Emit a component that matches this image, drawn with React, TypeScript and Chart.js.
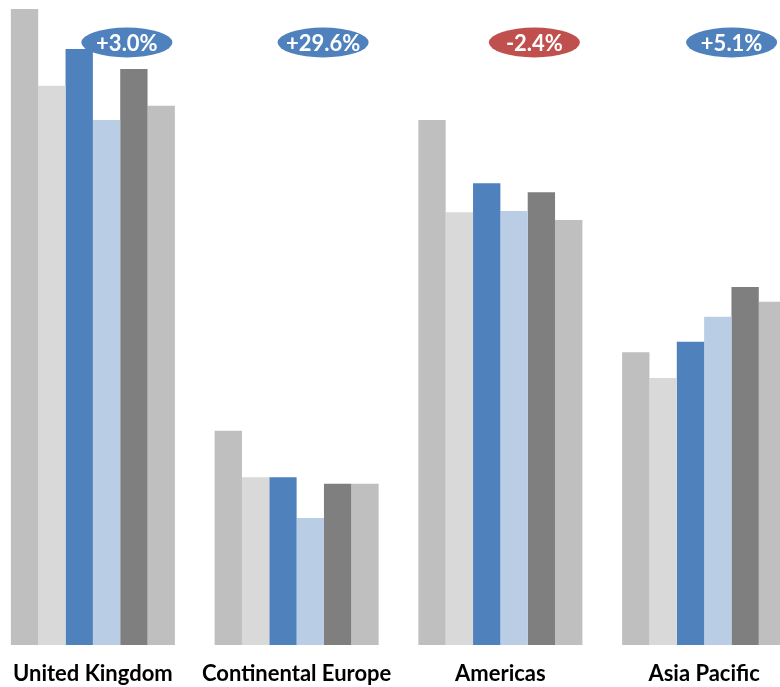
import React, { useEffect, useRef } from "react";
import { Chart, registerables } from "chart.js";

Chart.register(...registerables);

// Regions along the category axis
const regions = ["United Kingdom", "Continental Europe", "Americas", "Asia Pacific"];

// Six periods per region (index, 100 = axis maximum)
const period1 = [98.6, 33.2, 81.4, 45.4];
const period2 = [86.7, 26.0, 67.1, 41.4];
const period3 = [92.4, 26.0, 71.6, 47.0];
const period4 = [81.4, 19.7, 67.3, 50.9];
const period5 = [89.3, 25.0, 70.2, 55.5];
const period6 = [83.6, 25.0, 65.9, 53.2];

// Year-on-year change shown in the badge above each region
const changeLabels = ["+3.0%", "+29.6%", "-2.4%", "+5.1%"];
const changeValues = [3.0, 29.6, -2.4, 5.1];

const seriesColors = ["#BFBFBF", "#D9D9D9", "#4F81BD", "#B9CDE5", "#7F7F7F", "#BFBFBF"];

const badgePlugin = {
  id: "changeBadges",
  afterDatasetsDraw(chart: any) {
    const { ctx, chartArea } = chart;
    const xScale = chart.scales.x;
    const shifts = [34, 26.5, 34, 27.5];
    ctx.save();
    changeLabels.forEach((text, i) => {
      const cx = xScale.getPixelForValue(i) + shifts[i];
      const cy = chartArea.top + 42.5;
      ctx.beginPath();
      ctx.ellipse(cx, cy, 45.5, 15, 0, 0, Math.PI * 2);
      ctx.fillStyle = changeValues[i] < 0 ? "#C0504D" : "#4F81BD";
      ctx.fill();
      ctx.fillStyle = "#FFFFFF";
      ctx.font = "bold 22px Lato";
      ctx.textAlign = "center";
      ctx.textBaseline = "middle";
      ctx.fillText(text, cx, cy + 1);
    });
    ctx.restore();
  },
};

export default function App() {
  const canvasRef = useRef<HTMLCanvasElement | null>(null);

  useEffect(() => {
    if (!canvasRef.current) return;
    const series = [period1, period2, period3, period4, period5, period6];
    const chart = new Chart(canvasRef.current, {
      type: "bar",
      data: {
        labels: regions,
        datasets: series.map((values, i) => ({
          label: `Period ${i + 1}`,
          data: values,
          backgroundColor: seriesColors[i],
          borderWidth: 0,
          barPercentage: 1,
          categoryPercentage: 0.805,
        })),
      },
      options: {
        responsive: false,
        animation: false,
        layout: { padding: 0 },
        plugins: {
          legend: { display: false },
          tooltip: { enabled: false },
        },
        scales: {
          x: {
            grid: { display: false, drawTicks: false },
            border: { display: false },
            ticks: {
              color: "#000000",
              font: { family: "Lato", size: 22, weight: "bold" },
              padding: 16,
              maxRotation: 0,
              autoSkip: false,
            },
            afterFit: (scale: any) => {
              scale.height = 42;
            },
          },
          y: {
            display: false,
            min: 0,
            max: 100,
          },
        },
      },
      plugins: [badgePlugin],
    });
    return () => chart.destroy();
  }, []);

  return (
    <div
      style={{
        position: "fixed",
        left: 0,
        top: 0,
        width: 780,
        height: 687,
        overflow: "hidden",
        background: "#FFFFFF",
      }}
    >
      <canvas
        ref={canvasRef}
        width={815}
        height={687}
        style={{ position: "absolute", left: -9, top: 0, width: 815, height: 687 }}
      />
    </div>
  );
}
